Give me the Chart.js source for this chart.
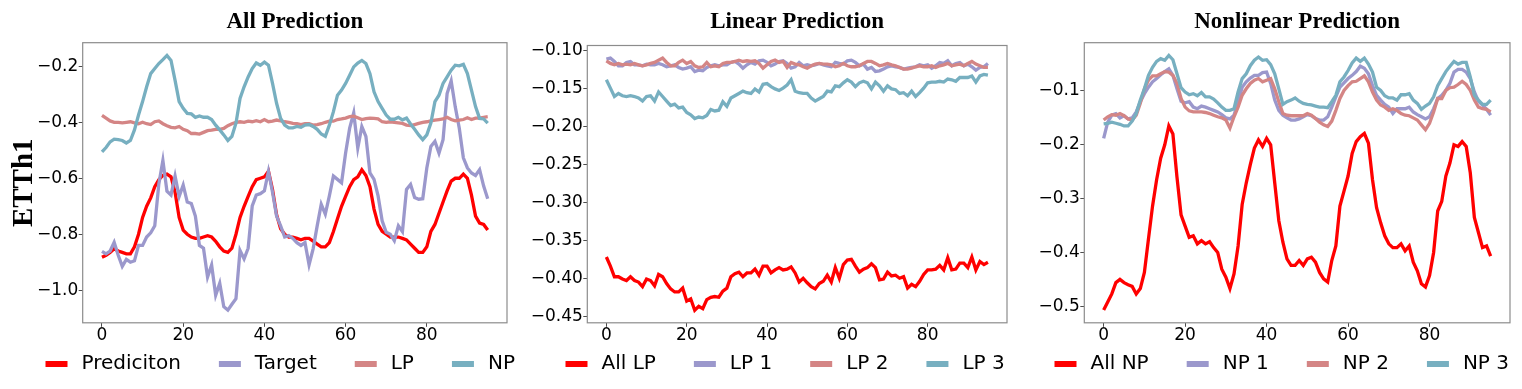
<!DOCTYPE html>
<html>
<head>
<meta charset="utf-8">
<title>ETTh1 Prediction</title>
<script src="https://cdn.jsdelivr.net/npm/chart.js@4.4.1/dist/chart.umd.min.js"></script>
<style>
    html, body { margin: 0; padding: 0; background: #ffffff; }
    body { width: 1522px; height: 389px; position: relative; overflow: hidden; }
    .panel { position: absolute; top: 0; height: 389px; }
</style>
</head>
<body>
<div class="panel" style="left:0px;width:540px"><canvas id="allChart"></canvas></div>
<div class="panel" style="left:520px;width:510px"><canvas id="linearChart"></canvas></div>
<div class="panel" style="left:1009px;width:513px"><canvas id="nonlinearChart"></canvas></div>
<script>
// time steps 0..95 and tick labels
const steps = [...Array(96).keys()];
const xTicks = [0, 20, 40, 60, 80];
const allYTicks = [-1.0, -0.8, -0.6, -0.4, -0.2];
const linearYTicks = [-0.45, -0.40, -0.35, -0.30, -0.25, -0.20, -0.15, -0.10];
const nonlinearYTicks = [-0.5, -0.4, -0.3, -0.2, -0.1];

// legend labels
const allLabels = ['Prediciton', 'Target', 'LP', 'NP'];
const linearLabels = ['All LP', 'LP 1', 'LP 2', 'LP 3'];
const nonlinearLabels = ['All NP', 'NP 1', 'NP 2', 'NP 3'];

// All Prediction
const prediction = [
    -0.882, -0.875, -0.865, -0.852, -0.860, -0.865, -0.870, -0.870, -0.845, -0.800,
    -0.740, -0.700, -0.670, -0.630, -0.605, -0.590, -0.585, -0.595, -0.650, -0.740,
    -0.785, -0.800, -0.810, -0.815, -0.815, -0.810, -0.805, -0.810, -0.825, -0.845,
    -0.860, -0.865, -0.850, -0.800, -0.740, -0.700, -0.665, -0.630, -0.605, -0.600,
    -0.595, -0.575, -0.640, -0.730, -0.780, -0.800, -0.810, -0.810, -0.815, -0.820,
    -0.815, -0.815, -0.825, -0.835, -0.845, -0.845, -0.830, -0.790, -0.745, -0.700,
    -0.665, -0.630, -0.605, -0.595, -0.570, -0.590, -0.630, -0.710, -0.765, -0.790,
    -0.800, -0.810, -0.810, -0.810, -0.815, -0.820, -0.835, -0.850, -0.865, -0.865,
    -0.845, -0.790, -0.765, -0.725, -0.685, -0.645, -0.610, -0.600, -0.600, -0.585,
    -0.600, -0.660, -0.735, -0.760, -0.765, -0.785
];
const target = [
    -0.861, -0.870, -0.860, -0.829, -0.875, -0.915, -0.890, -0.900, -0.895, -0.840,
    -0.840, -0.810, -0.795, -0.770, -0.620, -0.536, -0.646, -0.660, -0.592, -0.665,
    -0.624, -0.685, -0.690, -0.735, -0.840, -0.850, -0.953, -0.910, -1.018, -0.975,
    -1.059, -1.071, -1.050, -1.030, -0.858, -0.888, -0.850, -0.699, -0.660, -0.655,
    -0.645, -0.575, -0.650, -0.735, -0.770, -0.810, -0.805, -0.815, -0.830, -0.840,
    -0.830, -0.909, -0.852, -0.770, -0.693, -0.728, -0.663, -0.592, -0.604, -0.616,
    -0.510, -0.421, -0.366, -0.492, -0.415, -0.450, -0.581, -0.604, -0.663, -0.752,
    -0.793, -0.800, -0.823, -0.770, -0.791, -0.640, -0.622, -0.669, -0.675, -0.673,
    -0.563, -0.486, -0.468, -0.510, -0.462, -0.297, -0.252, -0.344, -0.421, -0.527,
    -0.563, -0.581, -0.590, -0.569, -0.628, -0.673
];
const lpPart = [
    -0.375, -0.385, -0.395, -0.400, -0.400, -0.402, -0.400, -0.398, -0.402, -0.405,
    -0.400, -0.405, -0.408, -0.398, -0.395, -0.405, -0.412, -0.418, -0.420, -0.415,
    -0.425, -0.430, -0.440, -0.440, -0.442, -0.436, -0.430, -0.428, -0.425, -0.425,
    -0.422, -0.412, -0.405, -0.400, -0.398, -0.400, -0.396, -0.398, -0.394, -0.398,
    -0.390, -0.398, -0.396, -0.392, -0.395, -0.398, -0.400, -0.404, -0.405, -0.408,
    -0.405, -0.405, -0.410, -0.408, -0.405, -0.400, -0.396, -0.396, -0.390, -0.388,
    -0.385, -0.380, -0.378, -0.384, -0.390, -0.387, -0.385, -0.386, -0.388, -0.398,
    -0.400, -0.398, -0.400, -0.402, -0.404, -0.410, -0.412, -0.408, -0.404, -0.400,
    -0.398, -0.395, -0.392, -0.390, -0.388, -0.382, -0.390, -0.395, -0.392, -0.390,
    -0.384, -0.390, -0.385, -0.385, -0.382, -0.380
];
const npPart = [
    -0.506, -0.490, -0.470, -0.460, -0.462, -0.465, -0.474, -0.465, -0.427, -0.374,
    -0.326, -0.273, -0.226, -0.208, -0.190, -0.176, -0.161, -0.179, -0.250, -0.326,
    -0.350, -0.368, -0.370, -0.382, -0.377, -0.382, -0.382, -0.390, -0.410, -0.427,
    -0.445, -0.465, -0.450, -0.403, -0.315, -0.273, -0.238, -0.208, -0.188, -0.196,
    -0.185, -0.196, -0.261, -0.332, -0.386, -0.410, -0.420, -0.420, -0.415, -0.418,
    -0.410, -0.408, -0.415, -0.425, -0.442, -0.450, -0.410, -0.362, -0.303, -0.285,
    -0.261, -0.232, -0.202, -0.188, -0.179, -0.190, -0.226, -0.291, -0.326, -0.350,
    -0.374, -0.389, -0.389, -0.382, -0.391, -0.385, -0.406, -0.425, -0.445, -0.462,
    -0.445, -0.403, -0.326, -0.303, -0.261, -0.238, -0.214, -0.196, -0.198, -0.193,
    -0.226, -0.285, -0.344, -0.386, -0.388, -0.403
];

// Linear Prediction
const allLP = [
    -0.372, -0.384, -0.398, -0.398, -0.401, -0.403, -0.398, -0.403, -0.405, -0.411,
    -0.401, -0.403, -0.410, -0.395, -0.398, -0.407, -0.414, -0.418, -0.418, -0.413,
    -0.430, -0.427, -0.442, -0.437, -0.440, -0.428, -0.425, -0.424, -0.425, -0.417,
    -0.413, -0.398, -0.394, -0.392, -0.398, -0.393, -0.393, -0.388, -0.396, -0.384,
    -0.384, -0.393, -0.389, -0.386, -0.389, -0.388, -0.385, -0.393, -0.405, -0.400,
    -0.406, -0.411, -0.414, -0.407, -0.404, -0.396, -0.405, -0.386, -0.400, -0.382,
    -0.376, -0.375, -0.384, -0.392, -0.388, -0.386, -0.381, -0.386, -0.402, -0.401,
    -0.392, -0.397, -0.396, -0.400, -0.398, -0.413, -0.408, -0.411, -0.404, -0.395,
    -0.389, -0.389, -0.388, -0.383, -0.389, -0.373, -0.389, -0.388, -0.380, -0.380,
    -0.386, -0.372, -0.389, -0.378, -0.382, -0.379
];
const lp1 = [
    -0.1118, -0.1105, -0.1149, -0.1206, -0.1206, -0.1162, -0.1149, -0.1193, -0.1193, -0.1206,
    -0.1184, -0.1193, -0.1193, -0.1175, -0.1193, -0.1219, -0.1206, -0.1193, -0.1228, -0.1250,
    -0.1237, -0.1219, -0.1281, -0.1263, -0.1272, -0.1228, -0.1206, -0.1193, -0.1206, -0.1193,
    -0.1193, -0.1162, -0.1149, -0.1184, -0.1237, -0.1193, -0.1162, -0.1184, -0.1140, -0.1132,
    -0.1162, -0.1206, -0.1184, -0.1149, -0.1140, -0.1175, -0.1237, -0.1219, -0.1162, -0.1206,
    -0.1193, -0.1206, -0.1193, -0.1175, -0.1193, -0.1206, -0.1219, -0.1162, -0.1175, -0.1184,
    -0.1140, -0.1132, -0.1162, -0.1206, -0.1184, -0.1250, -0.1228, -0.1281, -0.1272, -0.1250,
    -0.1219, -0.1206, -0.1219, -0.1228, -0.1250, -0.1237, -0.1228, -0.1219, -0.1193, -0.1206,
    -0.1193, -0.1237, -0.1206, -0.1162, -0.1175, -0.1140, -0.1206, -0.1175, -0.1162, -0.1206,
    -0.1184, -0.1219, -0.1263, -0.1228, -0.1219, -0.1175
];
const lp2 = [
    -0.1140, -0.1175, -0.1193, -0.1175, -0.1193, -0.1184, -0.1193, -0.1175, -0.1193, -0.1206,
    -0.1193, -0.1175, -0.1162, -0.1132, -0.1105, -0.1162, -0.1206, -0.1206, -0.1162, -0.1132,
    -0.1175, -0.1149, -0.1206, -0.1228, -0.1219, -0.1162, -0.1219, -0.1206, -0.1219, -0.1175,
    -0.1162, -0.1162, -0.1149, -0.1132, -0.1149, -0.1140, -0.1149, -0.1140, -0.1175, -0.1237,
    -0.1193, -0.1149, -0.1132, -0.1162, -0.1149, -0.1228, -0.1162, -0.1184, -0.1193, -0.1219,
    -0.1237, -0.1206, -0.1184, -0.1175, -0.1184, -0.1184, -0.1193, -0.1219, -0.1206, -0.1175,
    -0.1206, -0.1219, -0.1219, -0.1206, -0.1175, -0.1149, -0.1149, -0.1175, -0.1206, -0.1193,
    -0.1175, -0.1193, -0.1206, -0.1228, -0.1250, -0.1250, -0.1237, -0.1219, -0.1206, -0.1219,
    -0.1219, -0.1206, -0.1228, -0.1206, -0.1193, -0.1175, -0.1206, -0.1193, -0.1184, -0.1206,
    -0.1175, -0.1149, -0.1184, -0.1206, -0.1228, -0.1228
];
const lp3 = [
    -0.139, -0.150, -0.161, -0.157, -0.160, -0.161, -0.160, -0.161, -0.163, -0.167,
    -0.161, -0.160, -0.167, -0.155, -0.161, -0.167, -0.173, -0.171, -0.176, -0.175,
    -0.182, -0.185, -0.190, -0.188, -0.189, -0.186, -0.178, -0.180, -0.179, -0.168,
    -0.174, -0.163, -0.160, -0.157, -0.154, -0.156, -0.157, -0.151, -0.155, -0.145,
    -0.144, -0.148, -0.151, -0.153, -0.150, -0.146, -0.139, -0.154, -0.156, -0.157,
    -0.157, -0.163, -0.167, -0.164, -0.161, -0.154, -0.155, -0.147, -0.148, -0.143,
    -0.139, -0.142, -0.148, -0.143, -0.141, -0.143, -0.151, -0.142, -0.147, -0.154,
    -0.147, -0.151, -0.152, -0.157, -0.156, -0.160, -0.154, -0.161, -0.156, -0.150,
    -0.143, -0.142, -0.142, -0.141, -0.142, -0.138, -0.139, -0.141, -0.136, -0.136,
    -0.136, -0.134, -0.142, -0.134, -0.132, -0.133
];

// Nonlinear Prediction
const allNP = [
    -0.507, -0.492, -0.477, -0.456, -0.450, -0.456, -0.460, -0.463, -0.477, -0.467,
    -0.437, -0.375, -0.314, -0.265, -0.225, -0.200, -0.165, -0.180, -0.260, -0.330,
    -0.351, -0.372, -0.369, -0.384, -0.378, -0.384, -0.380, -0.391, -0.400, -0.431,
    -0.446, -0.467, -0.440, -0.388, -0.311, -0.271, -0.237, -0.206, -0.191, -0.203,
    -0.188, -0.200, -0.271, -0.341, -0.381, -0.412, -0.424, -0.424, -0.415, -0.424,
    -0.412, -0.409, -0.418, -0.437, -0.449, -0.455, -0.415, -0.388, -0.314, -0.286,
    -0.258, -0.216, -0.194, -0.185, -0.179, -0.197, -0.265, -0.317, -0.345, -0.369,
    -0.384, -0.391, -0.391, -0.384, -0.397, -0.388, -0.418, -0.434, -0.458, -0.464,
    -0.443, -0.400, -0.323, -0.305, -0.258, -0.234, -0.200, -0.203, -0.194, -0.203,
    -0.252, -0.335, -0.363, -0.391, -0.388, -0.407
];
const np1 = [
    -0.188, -0.158, -0.145, -0.142, -0.150, -0.146, -0.152, -0.150, -0.139, -0.120,
    -0.105, -0.093, -0.083, -0.077, -0.070, -0.064, -0.059, -0.071, -0.096, -0.119,
    -0.122, -0.120, -0.130, -0.133, -0.128, -0.130, -0.133, -0.136, -0.139, -0.144,
    -0.150, -0.152, -0.145, -0.120, -0.093, -0.083, -0.076, -0.071, -0.071, -0.066,
    -0.065, -0.086, -0.117, -0.136, -0.145, -0.150, -0.154, -0.154, -0.152, -0.148,
    -0.144, -0.146, -0.151, -0.154, -0.154, -0.148, -0.130, -0.111, -0.093, -0.085,
    -0.077, -0.071, -0.064, -0.054, -0.058, -0.068, -0.090, -0.108, -0.117, -0.125,
    -0.130, -0.142, -0.133, -0.133, -0.133, -0.130, -0.139, -0.144, -0.148, -0.152,
    -0.148, -0.133, -0.114, -0.108, -0.099, -0.086, -0.065, -0.060, -0.060, -0.065,
    -0.077, -0.102, -0.119, -0.126, -0.134, -0.145
];
const np2 = [
    -0.154, -0.148, -0.144, -0.145, -0.142, -0.146, -0.152, -0.154, -0.145, -0.123,
    -0.096, -0.080, -0.072, -0.072, -0.068, -0.064, -0.065, -0.071, -0.086, -0.114,
    -0.130, -0.137, -0.139, -0.139, -0.139, -0.140, -0.142, -0.145, -0.148, -0.150,
    -0.154, -0.169, -0.148, -0.130, -0.108, -0.096, -0.086, -0.080, -0.077, -0.083,
    -0.080, -0.077, -0.096, -0.120, -0.142, -0.145, -0.146, -0.146, -0.146, -0.146,
    -0.142, -0.145, -0.151, -0.158, -0.163, -0.166, -0.156, -0.136, -0.114, -0.099,
    -0.090, -0.083, -0.082, -0.077, -0.072, -0.083, -0.102, -0.117, -0.126, -0.130,
    -0.136, -0.133, -0.136, -0.142, -0.145, -0.146, -0.150, -0.154, -0.163, -0.172,
    -0.160, -0.139, -0.114, -0.114, -0.099, -0.094, -0.093, -0.088, -0.082, -0.088,
    -0.099, -0.117, -0.130, -0.133, -0.134, -0.139
];
const np3 = [
    -0.161, -0.160, -0.158, -0.160, -0.162, -0.165, -0.165, -0.156, -0.142, -0.117,
    -0.096, -0.071, -0.056, -0.045, -0.040, -0.043, -0.034, -0.042, -0.068, -0.094,
    -0.102, -0.107, -0.105, -0.109, -0.103, -0.111, -0.111, -0.115, -0.122, -0.130,
    -0.136, -0.136, -0.133, -0.102, -0.077, -0.068, -0.053, -0.043, -0.037, -0.043,
    -0.042, -0.051, -0.068, -0.096, -0.125, -0.120, -0.117, -0.113, -0.119, -0.123,
    -0.125, -0.126, -0.128, -0.130, -0.130, -0.131, -0.120, -0.108, -0.083, -0.074,
    -0.062, -0.048, -0.039, -0.045, -0.039, -0.050, -0.065, -0.093, -0.099, -0.109,
    -0.113, -0.113, -0.117, -0.107, -0.107, -0.105, -0.117, -0.123, -0.134, -0.128,
    -0.123, -0.111, -0.090, -0.077, -0.064, -0.054, -0.045, -0.050, -0.047, -0.047,
    -0.074, -0.108, -0.117, -0.125, -0.125, -0.117
];

// shared styles
const seriesColors = ['#ff0000', '#9b98cc', '#d48585', '#77afc0'];
const tickFont = { family: 'DejaVu Sans', size: 17 };
const legendFont = { family: 'DejaVu Sans', size: 20 };
const frameColor = '#8c8c8c';
const tickColor = '#4d4d4d';

// minus sign like matplotlib
function formatTick(value, decimals) {
    const text = Math.abs(value).toFixed(decimals);
    return value < 0 ? '\u2212' + text : text;
}

// legend handle: short thick line, with blank lead-in for column spacing
function makeHandle(color) {
    const c = document.createElement('canvas');
    c.width = 54;
    c.height = 6;
    const g = c.getContext('2d');
    g.fillStyle = color;
    g.fillRect(28, 0, 22, 6);
    return c;
}
const handles = seriesColors.map(makeHandle);

// box around the plot area
const framePlugin = {
    id: 'frame',
    afterDatasetsDraw(chart) {
        const { ctx, chartArea } = chart;
        ctx.save();
        ctx.strokeStyle = frameColor;
        ctx.lineWidth = 1.2;
        ctx.strokeRect(chartArea.left, chartArea.top,
            chartArea.right - chartArea.left, chartArea.bottom - chartArea.top);
        ctx.restore();
    }
};

function buildPanel(canvasId, cfg) {
    const el = document.getElementById(canvasId);
    const all = cfg.series.flat();
    const lo = Math.min(...all);
    const hi = Math.max(...all);
    const margin = (hi - lo) * 0.05;

    const datasets = cfg.series.map((values, i) => ({
        label: cfg.labels[i],
        data: values,
        borderColor: seriesColors[i],
        backgroundColor: seriesColors[i],
        borderWidth: 3.3,
        pointRadius: 0,
        tension: 0,
        fill: false,
        order: -i
    }));

    const yTitle = cfg.yTitle ? {
        display: true,
        text: cfg.yTitle,
        color: '#000000',
        font: { family: 'Liberation Serif', size: 29, weight: 'bold' },
        padding: { top: 0, bottom: 0 }
    } : { display: false };

    return new Chart(el, {
        type: 'line',
        data: { labels: steps, datasets },
        options: {
            responsive: true,
            maintainAspectRatio: false,
            animation: false,
            layout: { padding: { left: 7.5, right: 0, top: 0, bottom: 5.5 } },
            plugins: {
                title: {
                    display: true,
                    text: cfg.title,
                    fullSize: false,
                    color: '#000000',
                    font: { family: 'Liberation Serif', size: 23, weight: 'bold' },
                    padding: { top: 8.5, bottom: cfg.titleGap }
                },
                legend: {
                    position: 'bottom',
                    align: 'start',
                    labels: {
                        usePointStyle: true,
                        pointStyleWidth: 54,
                        padding: 10,
                        color: '#000000',
                        font: legendFont,
                        sort: (a, b) => a.datasetIndex - b.datasetIndex,
                        generateLabels: chart => Chart.defaults.plugins.legend.labels
                            .generateLabels(chart)
                            .map(item => Object.assign(item, { pointStyle: handles[item.datasetIndex] }))
                    }
                },
                tooltip: { enabled: false }
            },
            scales: {
                x: {
                    type: 'linear',
                    min: -4.75,
                    max: 99.75,
                    afterBuildTicks: s => { s.ticks = xTicks.map(v => ({ value: v })); },
                    afterFit: s => { s.height = 20.7; },
                    grid: { drawOnChartArea: false, drawTicks: true, tickLength: 4, color: tickColor },
                    border: { display: false },
                    ticks: {
                        padding: -1,
                        color: '#000000',
                        font: tickFont,
                        maxRotation: 0,
                        autoSkip: false,
                        callback: v => formatTick(v, 0)
                    }
                },
                y: {
                    type: 'linear',
                    min: lo - margin,
                    max: hi + margin,
                    afterBuildTicks: s => { s.ticks = cfg.yTicks.map(v => ({ value: v })); },
                    afterFit: s => { s.width = cfg.yWidth; },
                    grid: { drawOnChartArea: false, drawTicks: true, tickLength: 4, color: tickColor },
                    border: { display: false },
                    ticks: {
                        padding: 0.5,
                        color: '#000000',
                        font: tickFont,
                        autoSkip: false,
                        callback: v => formatTick(v, cfg.decimals)
                    },
                    title: yTitle
                },
                yRight: {
                    type: 'linear',
                    position: 'right',
                    display: true,
                    grid: { display: false },
                    border: { display: false },
                    ticks: { display: false },
                    afterFit: s => { s.width = cfg.rightGap; }
                }
            }
        },
        plugins: [framePlugin]
    });
}

buildPanel('allChart', {
    title: 'All Prediction',
    labels: allLabels,
    series: [prediction, target, lpPart, npPart],
    yTicks: allYTicks,
    decimals: 1,
    yTitle: 'ETTh1',
    yWidth: 75.2,
    rightGap: 33,
    titleGap: 6.6
});

buildPanel('linearChart', {
    title: 'Linear Prediction',
    labels: linearLabels,
    series: [allLP, lp1, lp2, lp3],
    yTicks: linearYTicks,
    decimals: 2,
    yWidth: 59.8,
    rightGap: 23,
    titleGap: 9.4
});

buildPanel('nonlinearChart', {
    title: 'Nonlinear Prediction',
    labels: nonlinearLabels,
    series: [allNP, np1, np2, np3],
    yTicks: nonlinearYTicks,
    decimals: 1,
    yWidth: 67.8,
    rightGap: 12,
    titleGap: 6.6
});
</script>
</body>
</html>
